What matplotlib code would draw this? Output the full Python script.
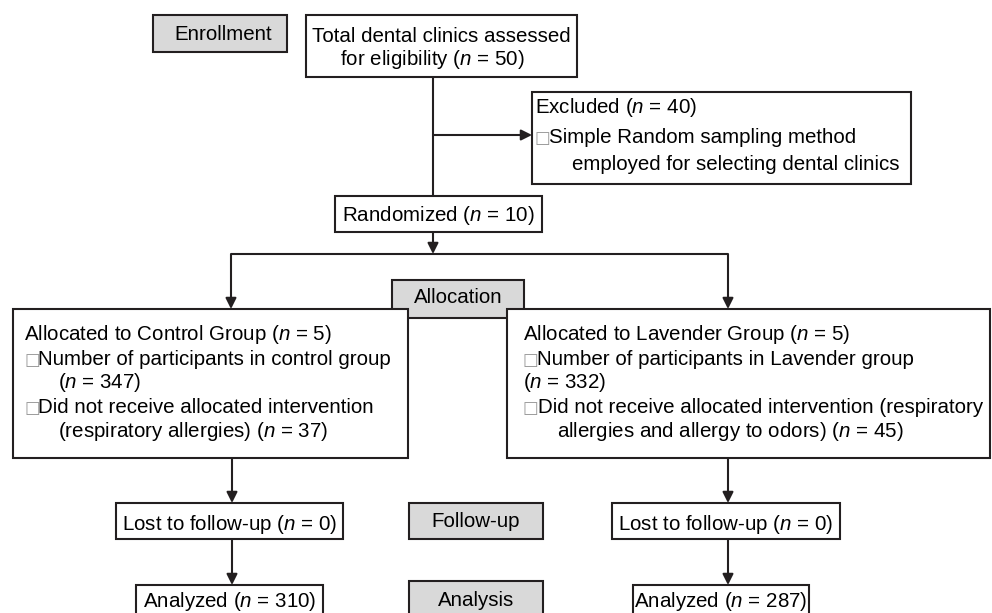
"""
plot.py - CONSORT style flow diagram of the lavender trial
"""

import matplotlib.pyplot as plt
from matplotlib.patches import Rectangle

plt.rcParams['font.family'] = ['Liberation Sans', 'DejaVu Sans']
plt.rcParams['mathtext.fontset'] = 'custom'
plt.rcParams['mathtext.rm'] = 'Liberation Sans'
plt.rcParams['mathtext.it'] = 'Liberation Sans:italic'

# ---- text content ----
stage_labels = ['Enrollment', 'Allocation', 'Follow-up', 'Analysis']
assessed_lines = ['Total dental clinics assessed', 'for eligibility ($n$ = 50)']
excluded_lines = ['Excluded ($n$ = 40)', 'Simple Random sampling method',
                  'employed for selecting dental clinics']
randomized_text = 'Randomized ($n$ = 10)'
control_lines = ['Allocated to Control Group ($n$ = 5)',
                 'Number of participants in control group',
                 '($n$ = 347)',
                 'Did not receive allocated intervention',
                 '(respiratory allergies) ($n$ = 37)']
lavender_lines = ['Allocated to Lavender Group ($n$ = 5)',
                  'Number of participants in Lavender group',
                  '($n$ = 332)',
                  'Did not receive allocated intervention (respiratory',
                  'allergies and allergy to odors) ($n$ = 45)']
lost_texts = ['Lost to follow-up ($n$ = 0)', 'Lost to follow-up ($n$ = 0)']
analyzed_texts = ['Analyzed ($n$ = 310)', 'Analyzed ($n$ = 287)']

# ---- layout (pixel coordinates, y down) ----
W, H = 992, 613
FS = 14.8
LINE = '#231f20'
GRAY = '#d9d9d9'
LW = 1.5

fig = plt.figure(figsize=(W / 100, H / 100), dpi=100)
ax = fig.add_axes([0, 0, 1, 1])
ax.set_xlim(0, W)
ax.set_ylim(H, 0)
ax.axis('off')


def box(x0, y0, x1, y1, fill='white', z=2):
    ax.add_patch(Rectangle((x0, y0), x1 - x0, y1 - y0, facecolor=fill,
                           edgecolor=LINE, linewidth=LW, zorder=z))


def line(pts):
    xs, ys = zip(*pts)
    ax.plot(xs, ys, color=LINE, linewidth=LW, solid_capstyle='butt', zorder=1)


def arrow(x0, y0, x1, y1):
    ax.annotate('', xy=(x1, y1), xytext=(x0, y0),
                arrowprops=dict(arrowstyle='-|>', color=LINE, lw=LW,
                                mutation_scale=16, shrinkA=0, shrinkB=0),
                zorder=1)


def txt(x, y, s, ha='left'):
    ax.text(x, y, s, fontsize=FS, ha=ha, va='baseline', color='black', zorder=5)


def bullet(x, y, s, gap=14):
    ax.text(x, y, '\u25a1', fontsize=12, ha='left', va='baseline',
            color='#9a9a9a', family='DejaVu Sans', zorder=5)
    txt(x + gap, y, s)


# stage boxes (gray)
box(153, 15, 287, 52, fill=GRAY)
txt(223, 40, stage_labels[0], ha='center')
box(392, 280, 524, 318, fill=GRAY, z=1.5)
txt(458, 303, stage_labels[1], ha='center')
box(409, 503, 543, 539, fill=GRAY)
txt(476, 527, stage_labels[2], ha='center')
box(409, 581, 543, 640, fill=GRAY)
txt(476, 606, stage_labels[3], ha='center')

# enrollment
box(306, 15, 577, 77)
txt(441, 42, assessed_lines[0], ha='center')
txt(432, 65, assessed_lines[1], ha='center')
line([(433, 77), (433, 196)])
arrow(433, 135, 532, 135)

box(532, 92, 911, 184)
txt(535, 113, excluded_lines[0])
bullet(535, 143, excluded_lines[1])
txt(572, 170, excluded_lines[2])

box(335, 196, 542, 232)
txt(438, 221, randomized_text, ha='center')

# allocation split
arrow(433, 232, 433, 254)
line([(231, 254), (728, 254)])
arrow(231, 254, 231, 309)
arrow(728, 254, 728, 309)

box(13, 309, 408, 458, z=2)
left_base = [340, 365, 388, 413, 437]
txt(24, left_base[0], control_lines[0])
bullet(24, left_base[1], control_lines[1])
txt(58, left_base[2], control_lines[2])
bullet(24, left_base[3], control_lines[3])
txt(58, left_base[4], control_lines[4])

box(507, 309, 990, 458, z=2)
txt(523, left_base[0], lavender_lines[0])
bullet(523, left_base[1], lavender_lines[1])
txt(523, left_base[2], lavender_lines[2])
bullet(523, left_base[3], lavender_lines[3], gap=15)
txt(557, left_base[4], lavender_lines[4])

# follow-up and analysis
lost_x = [(116, 343), (612, 840)]
anal_x = [(136, 323), (633, 809)]
arrow_x = [232, 728]
for i in range(2):
    ax_ = arrow_x[i]
    arrow(ax_, 458, ax_, 503)
    box(lost_x[i][0], 503, lost_x[i][1], 539)
    txt(sum(lost_x[i]) / 2, 530, lost_texts[i], ha='center')
    arrow(ax_, 539, ax_, 585)
    box(anal_x[i][0], 585, anal_x[i][1], 640)
    txt(sum(anal_x[i]) / 2, 607, analyzed_texts[i], ha='center')

fig.savefig('out.png', dpi=100)
